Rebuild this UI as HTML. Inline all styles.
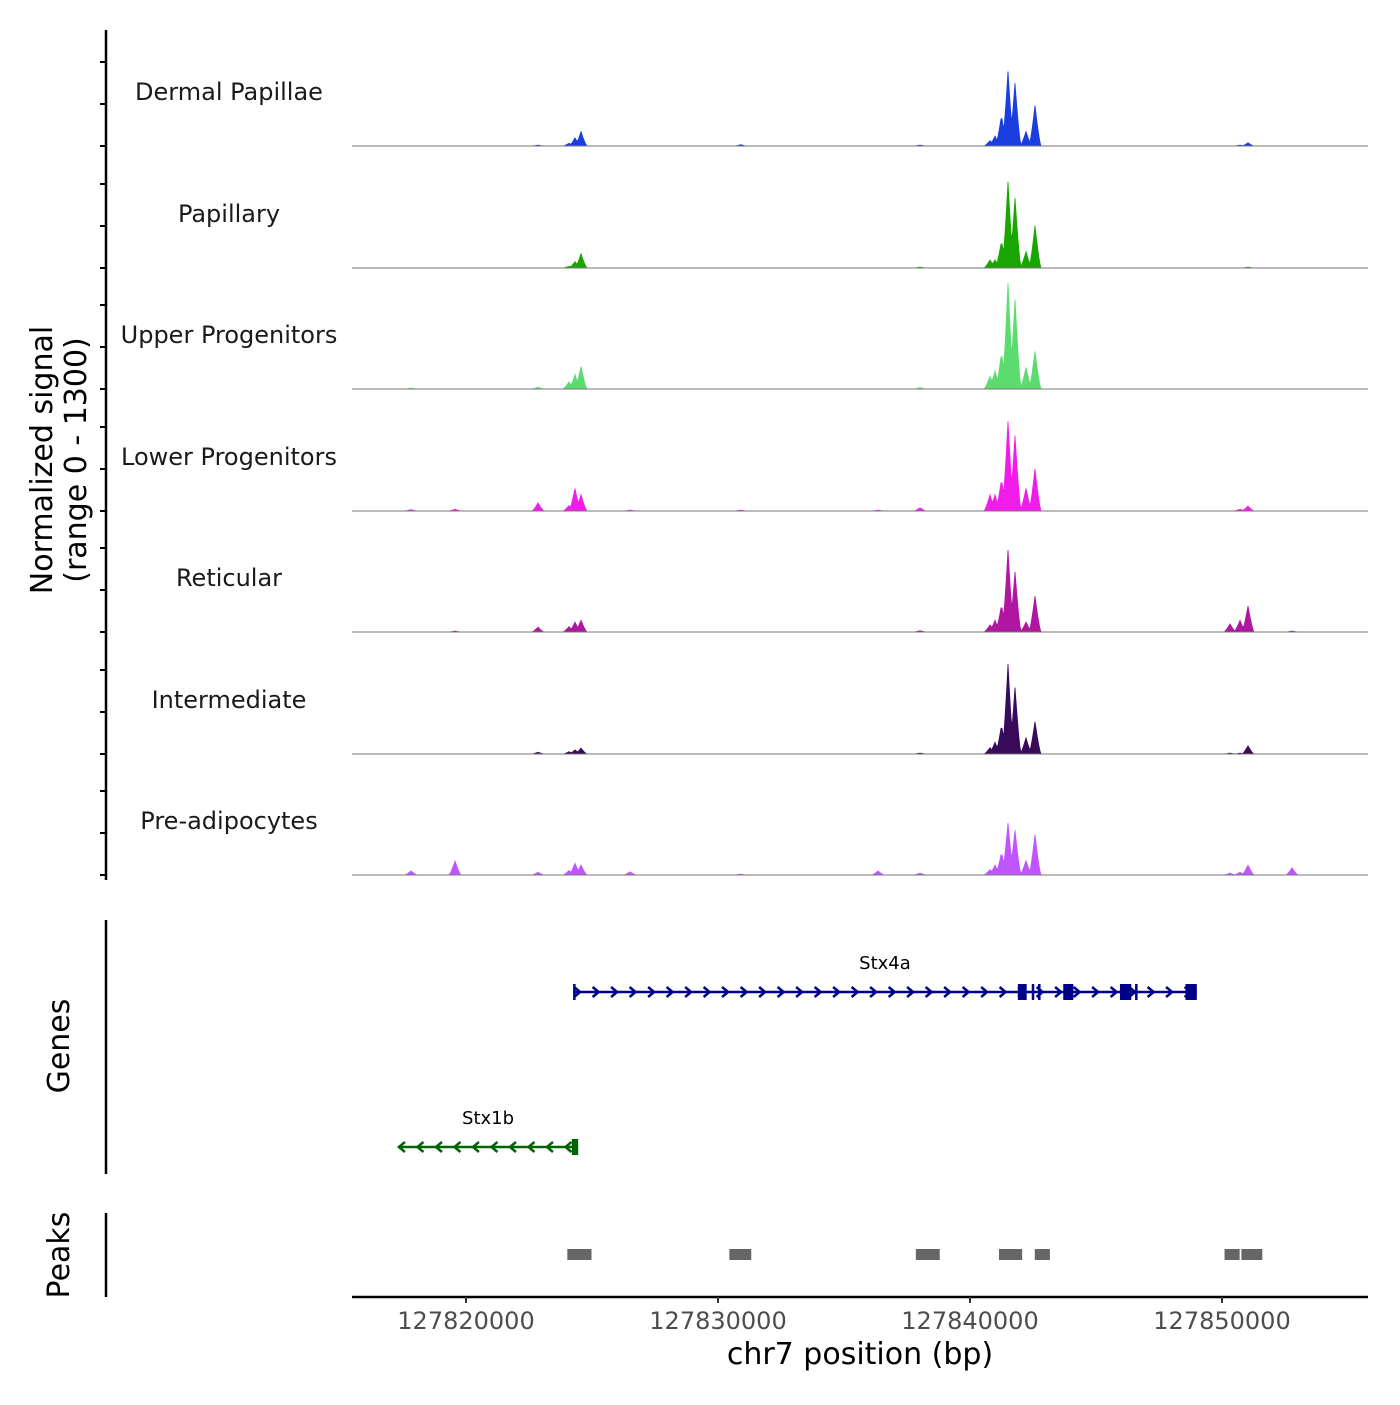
<!DOCTYPE html>
<html><head><meta charset="utf-8"><style>
body{margin:0;background:#fff}
svg text{font-family:"DejaVu Sans","Liberation Sans",sans-serif}
</style></head><body>
<svg id="chart" width="1400" height="1400" viewBox="0 0 1400 1400" xmlns="http://www.w3.org/2000/svg">
<rect width="1400" height="1400" fill="#fff"/>
<g id="tracks"></g>
<line x1="106" y1="30" x2="106" y2="880" stroke="#000" stroke-width="2.5"/>
<text transform="translate(52,460) rotate(-90)" text-anchor="middle" font-size="30">Normalized signal</text>
<text transform="translate(86,460) rotate(-90)" text-anchor="middle" font-size="30">(range 0 - 1300)</text>
<line x1="106" y1="920" x2="106" y2="1174" stroke="#000" stroke-width="2.5"/>
<text transform="translate(69,1046) rotate(-90)" text-anchor="middle" font-size="30">Genes</text>
<line x1="106" y1="1213" x2="106" y2="1297" stroke="#000" stroke-width="2.5"/>
<text transform="translate(69,1255) rotate(-90)" text-anchor="middle" font-size="30">Peaks</text>
<g id="genes"></g>
<g id="peaks"></g>
<line x1="352" y1="1297" x2="1368" y2="1297" stroke="#000" stroke-width="2.5"/>
<g id="xaxis"></g>
<text x="860" y="1364" text-anchor="middle" font-size="30">chr7 position (bp)</text>
</svg>
<script>
const NS="http://www.w3.org/2000/svg";
const trackNames=["Dermal Papillae","Papillary","Upper Progenitors","Lower Progenitors","Reticular","Intermediate","Pre-adipocytes"];
const trackColors=["#1a3ee0","#1aa600","#5cdc6e","#f21cea","#b0169f","#3a0a5a","#bf55ff"];
const binPositions=[127817817,127819563,127822857,127824087,127824325,127824563,127826508,127830900,127836349,127838016,127840794,127840992,127841250,127841508,127841786,127842222,127842579,127850317,127850714,127851031,127852778];
const dermalPapillae=[0,0,10,30,90,160,0,15,0,10,60,110,340,830,700,160,450,0,10,35,0];
const papillary=[0,0,0,20,70,160,0,0,0,10,90,90,300,960,780,180,470,0,0,10,0];
const upperProgenitors=[10,0,20,80,160,250,0,0,0,15,140,200,400,1180,1000,240,420,0,0,0,0];
const lowerProgenitors=[15,20,90,60,250,180,10,10,10,35,180,180,350,1000,840,250,470,0,20,55,0];
const reticular=[0,10,55,60,110,130,0,0,0,15,80,130,300,910,670,110,400,90,130,290,10];
const intermediate=[0,0,20,25,45,65,0,0,0,10,70,130,320,1000,740,180,360,10,10,90,0];
const preAdipocytes=[45,155,30,50,130,110,35,10,45,20,60,110,250,580,500,160,450,20,30,110,80];
const trackValues=[dermalPapillae,papillary,upperProgenitors,lowerProgenitors,reticular,intermediate,preAdipocytes];
const xTicks=[127820000,127830000,127840000,127850000];
const geneNames=["Stx4a","Stx1b"];
const geneStarts=[127824250,127817300];
const geneEnds=[127849000,127824450];
const geneStrands=[1,-1];
const stx4aExons=[[127824250,127824300],[127841900,127842250],[127842450,127842550],[127842700,127842800],[127843700,127844100],[127845950,127846400],[127846550,127846650],[127848550,127849000]];
const stx1bExons=[[127824200,127824450]];
const peakStarts=[127824020,127830450,127837850,127841150,127842570,127850100,127850770];
const peakEnds=[127824980,127831320,127838800,127842070,127843170,127850700,127851600];

const X0=127815476, PXBP=25.2/1000;
const xs=p=>352+(p-X0)*PXBP;
const baselines=[146,268,389,511,632,754,875];
const ys=v=>v*117/1300;
function mk(tag,attrs,parent,name,inter){const e=document.createElementNS(NS,tag);for(const k in attrs)e.setAttribute(k,attrs[k]);


parent.appendChild(e);return e;}
const tg=document.getElementById('tracks');
trackNames.forEach((nm,i)=>{
  const b=baselines[i];
  const g=mk('g',{},tg,'track-'+nm.toLowerCase().replace(/\s+/g,'-'),false);
  [0,42,84].forEach(d=>mk('line',{x1:100,x2:106,y1:b-d,y2:b-d,stroke:'#000','stroke-width':2},g,'y-tick',false));
  const lab=mk('text',{x:229,y:b-46,'text-anchor':'middle','font-size':24,fill:'#1a1a1a'},g,'track-label',false);lab.textContent=nm;
  const vals=trackValues[i];
  let d='M352,'+b;
  for(let px=352;px<=1368;px+=1){
    let h=0;
    binPositions.forEach((p,j)=>{const dx=Math.abs(xs(p)-px);const w=6;if(dx<w){h=Math.max(h,ys(vals[j])*Math.pow(1-dx/w,1.3));}});
    d+=' L'+px+','+(b-h).toFixed(2);
  }
  d+=' L1368,'+b+' Z';
  mk('path',{d:d,fill:trackColors[i],stroke:trackColors[i],'stroke-width':0.8},g,'signal-area',false);
  mk('line',{x1:352,x2:1368,y1:b,y2:b,stroke:'#777','stroke-width':1},g,'track-baseline',false);
});
const gg=document.getElementById('genes');
const geneYs=[992,1147], geneCols=["#00008b","#006400"], exonSets=[stx4aExons,stx1bExons];
geneNames.forEach((nm,i)=>{
  const y=geneYs[i], c=geneCols[i];
  const g=mk('g',{},gg,'gene-'+nm.toLowerCase(),false);
  const x1=xs(geneStarts[i]), x2=xs(geneEnds[i]);
  mk('line',{x1:x1,x2:x2,y1:y,y2:y,stroke:c,'stroke-width':2.5},g,'gene-body',false);
  for(let x=x1+4;x<x2-4;x+=18.5){
    const s=geneStrands[i];
    mk('path',{d:`M${x-3*s},${y-5} L${x+3*s},${y} L${x-3*s},${y+5}`,fill:'none',stroke:c,'stroke-width':2.5},g,'strand-arrow',false);
  }
  exonSets[i].forEach(e=>{const a=xs(e[0]),bb=xs(e[1]);mk('rect',{x:a,y:y-8,width:Math.max(2.5,bb-a),height:16,fill:c},g,'exon',false);});
  const t=mk('text',{x:(x1+x2)/2,y:y-23,'text-anchor':'middle','font-size':18,fill:'#000'},g,'gene-label',false);t.textContent=nm;
});
const pg=document.getElementById('peaks');
peakStarts.forEach((s,i)=>{mk('rect',{x:xs(s),y:1249,width:xs(peakEnds[i])-xs(s),height:11,fill:'#666'},pg,'peak-region',false);});
const xg=document.getElementById('xaxis');
xTicks.forEach(t=>{const x=xs(t);
  mk('line',{x1:x,x2:x,y1:1297,y2:1303,stroke:'#333','stroke-width':2},xg,'x-tick',false);
  const tx=mk('text',{x:x,y:1329,'text-anchor':'middle','font-size':24,fill:'#4d4d4d'},xg,'x-tick-label',false);tx.textContent=t;});
</script>
</body></html>
